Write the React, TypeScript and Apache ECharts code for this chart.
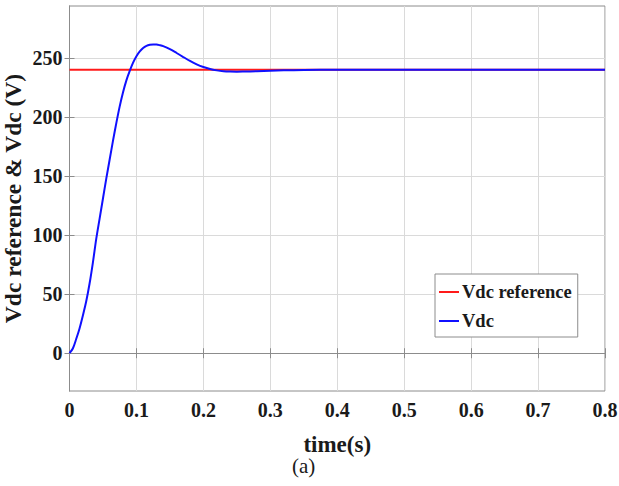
import React, { useEffect, useRef } from "react";
import * as echarts from "echarts";

const timeValues = [
  0, 0.005, 0.01, 0.015, 0.02, 0.025, 0.03, 0.035, 0.04, 0.045, 0.05, 0.055,
  0.06, 0.065, 0.07, 0.075, 0.08, 0.085, 0.09, 0.095, 0.1, 0.105, 0.11, 0.115,
  0.12, 0.125, 0.13, 0.135, 0.14, 0.15, 0.16, 0.17, 0.18, 0.19, 0.2, 0.21,
  0.22, 0.23, 0.24, 0.25, 0.26, 0.28, 0.3, 0.32, 0.35, 0.4, 0.5, 0.6, 0.7, 0.8,
];
const vdcValues = [
  0, 4, 12, 21, 32, 44, 59, 77, 97, 114, 131, 148,
  164, 180, 195, 209, 221, 231, 239, 246, 251.5, 255.5, 258.5, 260.3,
  261.2, 261.5, 261.4, 260.8, 260, 257.5, 254.2, 250.8, 247.5, 244.6, 242.3, 240.6,
  239.5, 238.8, 238.5, 238.4, 238.5, 238.8, 239.2, 239.5, 239.8, 240, 240, 240, 240, 240,
];
const refTimes = [0, 0.8];
const refValues = [240, 240];
const yTicks = [0, 50, 100, 150, 200, 250];
const xTicks = [0, 0.1, 0.2, 0.3, 0.4, 0.5, 0.6, 0.7, 0.8];

const FONT = "'Liberation Serif', 'Times New Roman', serif";
const TXT = "#1a1a1a";

export default function App() {
  const ref = useRef<HTMLDivElement>(null);
  useEffect(() => {
    if (!ref.current) return;
    const chart = echarts.init(ref.current, undefined, { renderer: "svg" });
    const vdcData = timeValues.map((t, i) => [t, vdcValues[i]]);
    const refData = refTimes.map((t, i) => [t, refValues[i]]);
    chart.setOption({
      animation: false,
      backgroundColor: "#ffffff",
      textStyle: { fontFamily: FONT, fontWeight: "bold", color: TXT },
      grid: {
        left: 69.5,
        right: 14,
        top: 6,
        bottom: 95,
        show: true,
        borderColor: "#8c8c8c",
        borderWidth: 1,
        backgroundColor: "#ffffff",
        containLabel: false,
        outerBoundsMode: "none",
      },
      xAxis: [
        {
          type: "value",
          min: 0,
          max: 0.8,
          interval: 0.1,
          position: "bottom",
          name: "time(s)",
          nameLocation: "middle",
          nameGap: 42,
          nameMoveOverlap: false,
          nameTextStyle: { fontFamily: FONT, fontWeight: "bold", fontSize: 23, color: TXT },
          axisLine: { show: true, lineStyle: { color: "#8c8c8c" } },
          axisTick: { show: true, inside: true, length: 5, lineStyle: { color: "#8c8c8c" } },
          axisLabel: {
            fontFamily: FONT,
            fontWeight: "bold",
            fontSize: 20,
            color: TXT,
            margin: 9,
            formatter: (v: number) => (xTicks.includes(Math.round(v * 10) / 10) ? String(Math.round(v * 10) / 10) : ""),
          },
          splitLine: { show: true, lineStyle: { color: "#dadada", width: 1 } },
        },
        {
          type: "value",
          min: 0,
          max: 0.8,
          interval: 0.1,
          position: "top",
          axisLine: { show: true, lineStyle: { color: "#8c8c8c" } },
          axisTick: { show: true, inside: true, length: 5, lineStyle: { color: "#8c8c8c" } },
          axisLabel: { show: false },
          splitLine: { show: false },
        },
      ],
      yAxis: [
        {
          type: "value",
          min: -32,
          max: 294,
          name: "Vdc reference & Vdc (V)",
          nameLocation: "middle",
          nameGap: 45,
          nameMoveOverlap: false,
          nameTextStyle: { fontFamily: FONT, fontWeight: "bold", fontSize: 23.5, color: TXT },
          axisLine: { show: true, lineStyle: { color: "#8c8c8c" } },
          axisTick: { show: true, inside: true, length: 5, customValues: yTicks, lineStyle: { color: "#8c8c8c" } },
          axisLabel: {
            fontFamily: FONT,
            fontWeight: "bold",
            fontSize: 20,
            color: TXT,
            margin: 7,
            customValues: yTicks,
          },
          splitLine: { show: true, lineStyle: { color: "#dadada", width: 1 } },
        },
        {
          type: "value",
          min: -32,
          max: 294,
          position: "right",
          axisLine: { show: true, lineStyle: { color: "#8c8c8c" } },
          axisTick: { show: true, inside: true, length: 5, customValues: yTicks, lineStyle: { color: "#8c8c8c" } },
          axisLabel: { show: false },
          splitLine: { show: false },
        },
      ],
      legend: {
        orient: "vertical",
        left: 435,
        top: 274,
        padding: [8, 6, 6, 4],
        itemGap: 9,
        itemWidth: 20,
        itemHeight: 2,
        backgroundColor: "#ffffff",
        borderColor: "#8c8c8c",
        borderWidth: 1,
        borderRadius: 0,
        icon: "rect",
        textStyle: { fontFamily: FONT, fontWeight: "bold", fontSize: 18.5, color: TXT, lineHeight: 20, padding: [0, 0, 0, -2] },
        data: ["Vdc reference", "Vdc"],
      },
      series: [
        {
          name: "Vdc reference",
          type: "line",
          data: refData,
          showSymbol: false,
          symbol: "none",
          lineStyle: { color: "#ff1a1a", width: 2 },
          itemStyle: { color: "#ff1a1a" },
          z: 2,
        },
        {
          name: "Vdc",
          type: "line",
          data: vdcData,
          showSymbol: false,
          symbol: "none",
          smooth: 0.3,
          lineStyle: { color: "#1010ff", width: 2 },
          itemStyle: { color: "#1010ff" },
          z: 3,
        },
      ],
      graphic: [
        {
          type: "text",
          left: 292,
          top: 455,
          style: { text: "(a)", fontFamily: FONT, fontWeight: "normal", fontSize: 21, fill: TXT },
        },
      ],
    });
    return () => chart.dispose();
  }, []);
  return <div ref={ref} style={{ width: 619, height: 486, position: "absolute", left: 0, top: 0 }} />;
}
